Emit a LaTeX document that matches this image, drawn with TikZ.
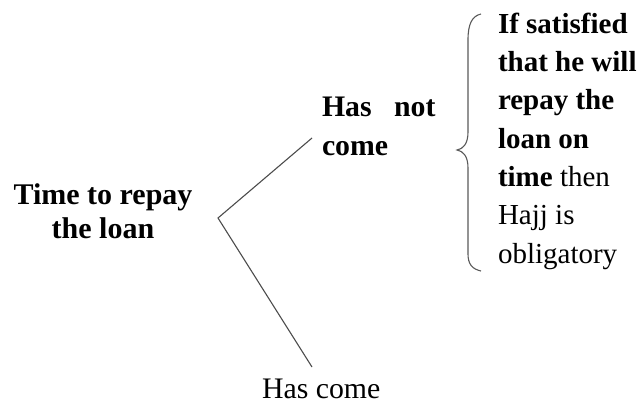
\documentclass[tikz,border=0pt]{standalone}
\usepackage{fontspec}
\setmainfont{Liberation Serif}
\begin{document}
\begin{tikzpicture}[x=1pt,y=-1pt,
  lbl/.style={inner sep=0pt, outer sep=0pt, align=left},
  big/.style={font=\fontsize{29.8}{38.3}\selectfont},
  side/.style={font=\fontsize{29}{38.3}\selectfont},
  link/.style={draw=black!70, line width=1.1pt},
  brace/.style={draw=black!65, line width=1.1pt}]
\useasboundingbox (0,0) rectangle (642,405);
% root (base anchor = baseline of last line)
\node[lbl, align=center, font=\fontsize{30}{34}\selectfont, anchor=base] (root) at (103,238) {\textbf{Time to repay}\\\textbf{the loan}};
% children
\node[lbl, big, anchor=base west] (notcome) at (322,155) {\textbf{Has\ \ \ not}\\\textbf{come}};
\node[lbl, big, anchor=base west] (come) at (262,398) {Has come};
\node[lbl, side, anchor=base west] (cond) at (498,263) {\textbf{If satisfied}\\\textbf{that he will}\\\textbf{repay the}\\\textbf{loan on}\\\textbf{time} then\\Hajj is\\obligatory};
% connectors
\coordinate (fork) at (218,218);
\coordinate (upend) at (312,138);
\coordinate (downend) at (312,367);
\draw[link] (upend) -- (fork) -- (downend);
% brace
\draw[brace] (481,14) .. controls (472,16) and (468,24) .. (468,40) -- (468,132)
  .. controls (468,144) and (463,149) .. (457,150)
  .. controls (463,151) and (468,156) .. (468,168) -- (468,254)
  .. controls (468,264) and (472,269) .. (481,271);
\end{tikzpicture}
\end{document}
